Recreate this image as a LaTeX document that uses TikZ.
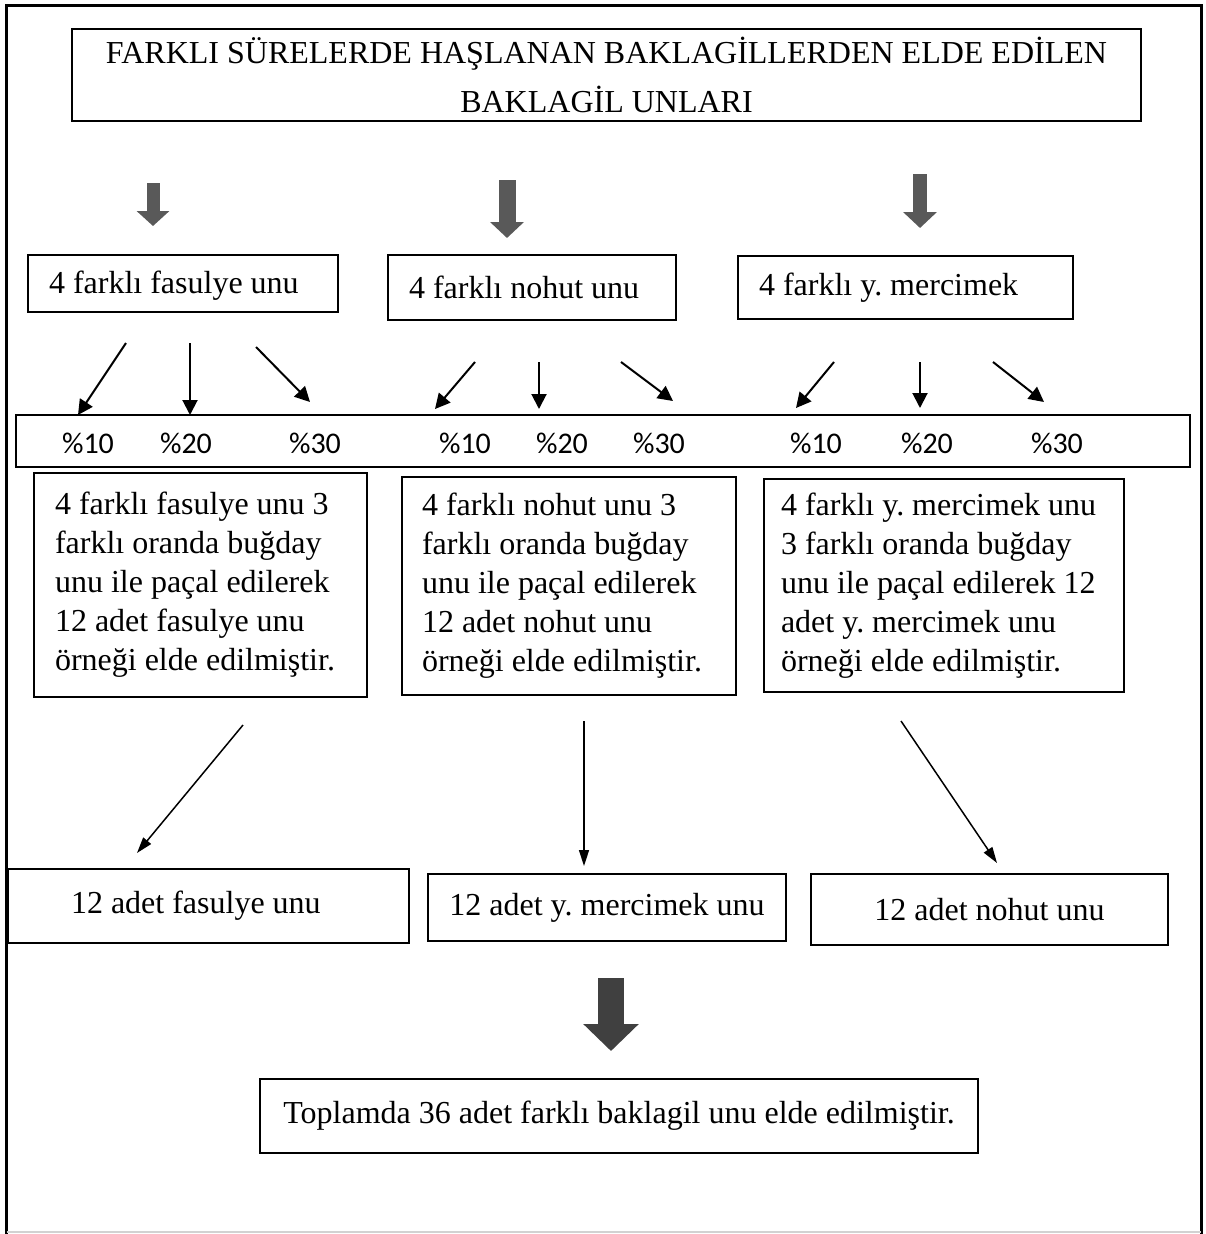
\documentclass[tikz,border=0pt]{standalone}
\usepackage{fontspec}
\setmainfont{Liberation Serif}
\newfontfamily\pctfont{Carlito}
\usepackage{tikz}
\usetikzlibrary{arrows.meta}
\frenchspacing

\definecolor{arrowgray}{HTML}{595959}
\definecolor{arrowdark}{HTML}{404040}

\begin{document}
\begin{tikzpicture}[x=1pt, y=-1pt,
    box/.style={draw, line width=1.5pt, inner sep=0pt, font=\fontsize{32}{39}\selectfont},
    lbox/.style={box, align=flush left, inner xsep=21pt},
    pct/.style={font=\pctfont\fontsize{30}{36}\selectfont},
    smallarrow/.style={line width=2pt, -{Triangle[length=15pt, width=15pt]}},
    longarrow/.style={line width=1.5pt, -{Triangle[length=16pt, width=10pt]}}]
    \useasboundingbox (0,0) rectangle (1205,1234);

    % frame
    \draw[line width=3pt] (6.5,1234) -- (6.5,5.5) -- (1201,5.5) -- (1201,1234);
    \draw[gray!35, line width=2pt] (6.5,1232) -- (1201,1232);

    % boxes
    \node[box, minimum width=1069pt, minimum height=92pt, align=center,
          font=\fontsize{32}{49}\selectfont] (title) at (606.5,75)
          {FARKLI SÜRELERDE HAŞLANAN BAKLAGİLLERDEN ELDE EDİLEN\\BAKLAGİL UNLARI};

    \node[lbox, text width=268pt, minimum height=57pt, text depth=2pt] (fas) at (183,283.5) {4 farklı fasulye unu};
    \node[lbox, text width=246pt, minimum height=65pt] (noh) at (532,287.5) {4 farklı nohut unu};
    \node[lbox, text width=293pt, minimum height=63pt] (mer) at (905.5,287.5) {4 farklı y. mercimek};

    \node[box, minimum width=1174pt, minimum height=52pt] (band) at (603,441) {};
    \foreach \n/\x/\t in {p1/88/10, p2/186/20, p3/315/30,
                          p4/465/10, p5/562/20, p6/659/30,
                          p7/816/10, p8/927/20, p9/1057/30}
      \node[pct] (\n) at (\x,443) {\%\t};

    \node[lbox, text width=291pt, minimum height=224pt] (fasmix) at (200.5,585)
      {4 farklı fasulye unu 3\\farklı oranda buğday\\unu ile paçal edilerek\\12 adet fasulye unu\\örneği elde edilmiştir.};
    \node[lbox, inner xsep=20pt, text width=294pt, minimum height=218pt] (nohmix) at (569,586)
      {4 farklı nohut unu 3\\farklı oranda buğday\\unu ile paçal edilerek\\12 adet nohut unu\\örneği elde edilmiştir.};
    \node[lbox, inner xsep=17pt, text width=326pt, minimum height=213pt] (mermix) at (944,585.5)
      {4 farklı y. mercimek unu\\3 farklı oranda buğday\\unu ile paçal edilerek 12\\adet y. mercimek unu\\örneği elde edilmiştir.};

    \node[lbox, inner xsep=63pt, text width=275pt, minimum height=74pt] (fasout) at (208.5,906) {12 adet fasulye unu};
    \node[box, minimum width=358pt, minimum height=67pt] (merout) at (607,907.5) {12 adet y. mercimek unu};
    \node[box, minimum width=357pt, minimum height=71pt] (nohout) at (989.5,909.5) {12 adet nohut unu};

    \node[box, minimum width=718pt, minimum height=74pt] (total) at (619,1116)
      {Toplamda 36 adet farklı baklagil unu elde edilmiştir.};

    % arrow ends
    \foreach \n/\x/\y in {g1s/153/183, g1e/153/226, g2s/507/180, g2e/507/238,
                          g3s/920/174, g3e/920/228, g4s/611/978, g4e/611/1051,
                          f1s/126/343, f1e/78/415, f2s/190/343, f2e/190/415, f3s/256/347, f3e/310/402,
                          n1s/475/362, n1e/435/409, n2s/539/362, n2e/539/409, n3s/621/362, n3e/673/401,
                          m1s/834/362, m1e/796/408, m2s/920/362, m2e/920/408, m3s/993/362, m3e/1044/402,
                          b1s/243/725, b1e/137/853, b2s/584/721, b2e/584/866, b3s/901/721, b3e/997/863}
      \coordinate (\n) at (\x,\y);

    % block arrows
    \draw[arrowgray, line width=13pt, -{Triangle[length=15pt, width=32pt]}] (g1s) -- (g1e);
    \draw[arrowgray, line width=17pt, -{Triangle[length=16pt, width=33pt]}] (g2s) -- (g2e);
    \draw[arrowgray, line width=14pt, -{Triangle[length=16pt, width=33pt]}] (g3s) -- (g3e);
    \draw[arrowdark, line width=26pt, -{Triangle[length=27pt, width=54pt]}] (g4s) -- (g4e);

    \foreach \a in {f1, f2, f3, n1, n2, n3, m1, m2, m3}
      \draw[smallarrow] (\a s) -- (\a e);
    \foreach \a in {b1, b2, b3}
      \draw[longarrow] (\a s) -- (\a e);
\end{tikzpicture}
\end{document}
